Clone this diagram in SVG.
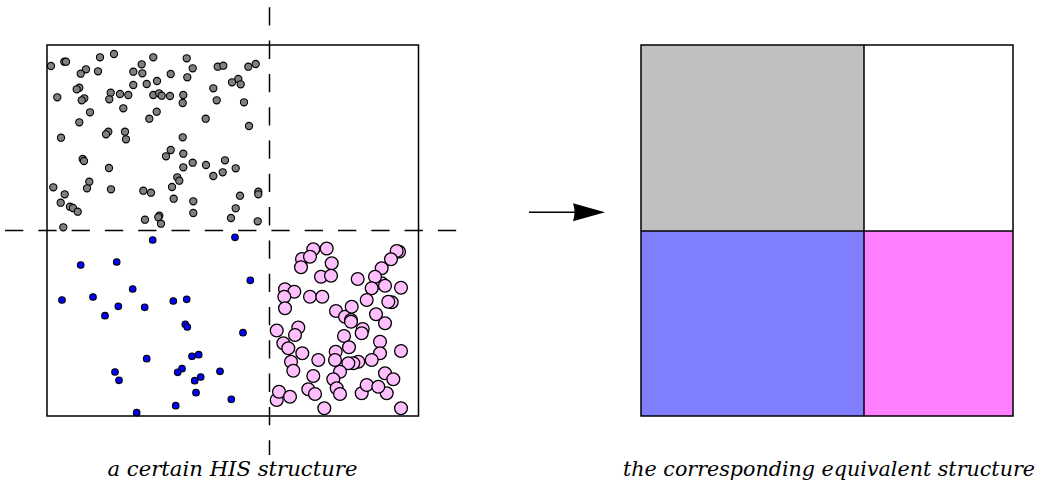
<svg xmlns="http://www.w3.org/2000/svg" width="1039" height="491" viewBox="0 0 1039 491">
<style>
.frame{fill:none;stroke:#000;stroke-width:1.5}
.dash{fill:none;stroke:#000;stroke-width:1.5;stroke-dasharray:18.3 15}
.g circle{fill:#808080;stroke:#000;stroke-width:1.1}
.b circle{fill:#0000ff;stroke:#000;stroke-width:1.1}
.p circle{fill:#ffbfff;stroke:#000;stroke-width:1.3}
.cap{font-family:"DejaVu Serif","Liberation Serif",serif;font-style:italic;font-size:20px;fill:#000}
</style>
<rect width="1039" height="491" fill="#fff"/>
<g id="his-structure">
<g class="g">
<circle cx="51" cy="66" r="3.6"/><circle cx="64.3" cy="61.7" r="3.6"/><circle cx="66" cy="61.7" r="3.6"/><circle cx="100" cy="57.3" r="3.6"/><circle cx="114" cy="54" r="3.6"/><circle cx="153.3" cy="57.3" r="3.6"/><circle cx="186.7" cy="58.3" r="3.6"/><circle cx="192.7" cy="68.3" r="3.6"/><circle cx="217.7" cy="66.7" r="3.6"/><circle cx="223.3" cy="65.7" r="3.6"/><circle cx="248.3" cy="66.7" r="3.6"/><circle cx="255.7" cy="64" r="3.6"/><circle cx="86" cy="69.3" r="3.6"/><circle cx="80.7" cy="73.7" r="3.6"/><circle cx="98" cy="71.3" r="3.6"/><circle cx="133.3" cy="71.7" r="3.6"/><circle cx="141.7" cy="64.3" r="3.6"/><circle cx="142.3" cy="73.3" r="3.6"/><circle cx="170.7" cy="74" r="3.6"/><circle cx="187.3" cy="77.3" r="3.6"/><circle cx="238.3" cy="79" r="3.6"/><circle cx="232" cy="82.3" r="3.6"/><circle cx="240.7" cy="84.3" r="3.6"/><circle cx="79.3" cy="87.7" r="3.6"/><circle cx="76.7" cy="89.3" r="3.6"/><circle cx="57.3" cy="97.3" r="3.6"/><circle cx="84.3" cy="98.3" r="3.6"/><circle cx="81.7" cy="100.3" r="3.6"/><circle cx="110.7" cy="92.7" r="3.6"/><circle cx="109.3" cy="99.3" r="3.6"/><circle cx="120" cy="94" r="3.6"/><circle cx="128.3" cy="95" r="3.6"/><circle cx="146.7" cy="84" r="3.6"/><circle cx="133.3" cy="85" r="3.6"/><circle cx="157" cy="81" r="3.6"/><circle cx="153.3" cy="95" r="3.6"/><circle cx="159" cy="93.3" r="3.6"/><circle cx="161.7" cy="95.7" r="3.6"/><circle cx="170" cy="96" r="3.6"/><circle cx="183.3" cy="95" r="3.6"/><circle cx="182.7" cy="103" r="3.6"/><circle cx="213.3" cy="88.3" r="3.6"/><circle cx="216.7" cy="100.3" r="3.6"/><circle cx="244" cy="102.3" r="3.6"/><circle cx="90" cy="112.3" r="3.6"/><circle cx="123.3" cy="108.3" r="3.6"/><circle cx="156.7" cy="111.7" r="3.6"/><circle cx="149.3" cy="118.7" r="3.6"/><circle cx="205.7" cy="118.7" r="3.6"/><circle cx="249" cy="126" r="3.6"/><circle cx="79.3" cy="122.3" r="3.6"/><circle cx="61" cy="137.7" r="3.6"/><circle cx="108.3" cy="131.7" r="3.6"/><circle cx="106" cy="134.3" r="3.6"/><circle cx="125" cy="131.7" r="3.6"/><circle cx="126" cy="139.3" r="3.6"/><circle cx="182.7" cy="137.3" r="3.6"/><circle cx="170.7" cy="150" r="3.6"/><circle cx="166" cy="156.3" r="3.6"/><circle cx="183.3" cy="153.7" r="3.6"/><circle cx="82.7" cy="159" r="3.6"/><circle cx="84" cy="161" r="3.6"/><circle cx="109" cy="168" r="3.6"/><circle cx="183.3" cy="167.3" r="3.6"/><circle cx="192.7" cy="162.7" r="3.6"/><circle cx="206" cy="165" r="3.6"/><circle cx="225" cy="160.3" r="3.6"/><circle cx="235.7" cy="168.3" r="3.6"/><circle cx="222.7" cy="172.3" r="3.6"/><circle cx="213.3" cy="176" r="3.6"/><circle cx="177.3" cy="177.3" r="3.6"/><circle cx="179.3" cy="180.7" r="3.6"/><circle cx="172" cy="187" r="3.6"/><circle cx="89.3" cy="181.7" r="3.6"/><circle cx="87" cy="188.3" r="3.6"/><circle cx="53.3" cy="187.3" r="3.6"/><circle cx="64.7" cy="194.3" r="3.6"/><circle cx="60.7" cy="202.7" r="3.6"/><circle cx="70" cy="206.7" r="3.6"/><circle cx="73" cy="208" r="3.6"/><circle cx="77.7" cy="211.7" r="3.6"/><circle cx="111" cy="189.3" r="3.6"/><circle cx="143.3" cy="190.7" r="3.6"/><circle cx="151" cy="192.7" r="3.6"/><circle cx="173.7" cy="198.7" r="3.6"/><circle cx="193.3" cy="201.3" r="3.6"/><circle cx="193.3" cy="213" r="3.6"/><circle cx="235.7" cy="208.3" r="3.6"/><circle cx="240" cy="195.7" r="3.6"/><circle cx="258.3" cy="191.7" r="3.6"/><circle cx="258.3" cy="194.3" r="3.6"/><circle cx="231" cy="218" r="3.6"/><circle cx="257.7" cy="221.3" r="3.6"/><circle cx="145" cy="219.7" r="3.6"/><circle cx="159.3" cy="215.7" r="3.6"/><circle cx="158.3" cy="217.3" r="3.6"/><circle cx="161" cy="223.7" r="3.6"/><circle cx="63.3" cy="227.3" r="3.6"/>
</g>
<g class="b">
<circle cx="152.7" cy="240" r="3.3"/><circle cx="235" cy="237.3" r="3.3"/><circle cx="80.7" cy="265" r="3.3"/><circle cx="116.7" cy="262" r="3.3"/><circle cx="250.3" cy="280.3" r="3.3"/><circle cx="132.7" cy="289" r="3.3"/><circle cx="62" cy="300" r="3.3"/><circle cx="93" cy="297" r="3.3"/><circle cx="118.3" cy="306.3" r="3.3"/><circle cx="144.7" cy="307.3" r="3.3"/><circle cx="173.3" cy="301" r="3.3"/><circle cx="186.7" cy="299.3" r="3.3"/><circle cx="105" cy="315.7" r="3.3"/><circle cx="185.3" cy="324.3" r="3.3"/><circle cx="187.3" cy="327" r="3.3"/><circle cx="243" cy="332.7" r="3.3"/><circle cx="146.7" cy="358.7" r="3.3"/><circle cx="192" cy="356.3" r="3.3"/><circle cx="198.7" cy="354.7" r="3.3"/><circle cx="115" cy="372" r="3.3"/><circle cx="119" cy="380.3" r="3.3"/><circle cx="182" cy="368.7" r="3.3"/><circle cx="177.7" cy="372.3" r="3.3"/><circle cx="220" cy="371.3" r="3.3"/><circle cx="194.7" cy="380.7" r="3.3"/><circle cx="200.7" cy="377" r="3.3"/><circle cx="196" cy="392.7" r="3.3"/><circle cx="231.3" cy="399.3" r="3.3"/><circle cx="175.7" cy="405.7" r="3.3"/><circle cx="136.7" cy="412.7" r="3.3"/>
</g>
<g class="p">
<circle cx="302" cy="259" r="6.4"/><circle cx="313.3" cy="249.3" r="6.4"/><circle cx="326.7" cy="248.5" r="6.4"/><circle cx="310" cy="256.7" r="6.4"/><circle cx="301" cy="267.3" r="6.4"/><circle cx="331.7" cy="263.3" r="6.4"/><circle cx="321" cy="276.7" r="6.4"/><circle cx="331" cy="275.7" r="6.4"/>
<circle cx="399" cy="251.7" r="6.4"/><circle cx="396.7" cy="251" r="6.4"/><circle cx="391" cy="259.3" r="6.4"/><circle cx="381.7" cy="268.3" r="6.4"/><circle cx="357.7" cy="279" r="6.4"/><circle cx="381.7" cy="283.3" r="6.4"/><circle cx="375" cy="276.7" r="6.4"/><circle cx="371.7" cy="288.3" r="6.4"/><circle cx="385" cy="285.7" r="6.4"/><circle cx="401" cy="287.7" r="6.4"/><circle cx="391.7" cy="302.3" r="6.4"/><circle cx="388.3" cy="301.7" r="6.4"/><circle cx="366.7" cy="300" r="6.4"/>
<circle cx="285" cy="289.3" r="6.4"/><circle cx="294.3" cy="291.7" r="6.4"/><circle cx="284.3" cy="296.7" r="6.4"/><circle cx="285" cy="308.3" r="6.4"/><circle cx="310" cy="296.7" r="6.4"/><circle cx="322.3" cy="296.7" r="6.4"/>
<circle cx="336" cy="311" r="6.4"/><circle cx="345" cy="316.7" r="6.4"/><circle cx="351.7" cy="306.7" r="6.4"/><circle cx="351" cy="320" r="6.4"/><circle cx="351" cy="321.7" r="6.4"/><circle cx="376" cy="314.3" r="6.4"/><circle cx="385" cy="323.3" r="6.4"/><circle cx="362.7" cy="329" r="6.4"/><circle cx="276.7" cy="330.5" r="6.4"/><circle cx="298.3" cy="327.5" r="6.4"/>
<circle cx="295" cy="335" r="6.4"/><circle cx="283.3" cy="343.3" r="6.4"/><circle cx="288.3" cy="348.3" r="6.4"/><circle cx="302.3" cy="353.3" r="6.4"/><circle cx="291" cy="361.7" r="6.4"/><circle cx="293.3" cy="370.7" r="6.4"/><circle cx="318.3" cy="360" r="6.4"/>
<circle cx="344" cy="336" r="6.4"/><circle cx="361.7" cy="333.3" r="6.4"/><circle cx="380" cy="341.7" r="6.4"/><circle cx="380" cy="353.3" r="6.4"/><circle cx="371.7" cy="360" r="6.4"/><circle cx="401" cy="351" r="6.4"/><circle cx="335.7" cy="351.7" r="6.4"/><circle cx="335" cy="360" r="6.4"/><circle cx="358.3" cy="361.7" r="6.4"/><circle cx="353.3" cy="363.3" r="6.4"/><circle cx="348.3" cy="363.3" r="6.4"/><circle cx="349" cy="347.3" r="6.4"/>
<circle cx="340" cy="371.7" r="6.4"/><circle cx="333.3" cy="379.3" r="6.4"/><circle cx="336.7" cy="388.3" r="6.4"/><circle cx="340" cy="394" r="6.4"/><circle cx="313.3" cy="376" r="6.4"/><circle cx="308.3" cy="389.3" r="6.4"/><circle cx="315" cy="394" r="6.4"/><circle cx="324.3" cy="408.3" r="6.4"/>
<circle cx="276.7" cy="400" r="6.4"/><circle cx="279" cy="391.7" r="6.4"/><circle cx="290" cy="396.7" r="6.4"/>
<circle cx="361.7" cy="393.3" r="6.4"/><circle cx="366.7" cy="385" r="6.4"/><circle cx="386.7" cy="393.3" r="6.4"/><circle cx="378.3" cy="386.7" r="6.4"/><circle cx="385" cy="373.3" r="6.4"/><circle cx="393.3" cy="379.3" r="6.4"/><circle cx="401" cy="408.3" r="6.4"/>
</g>
<rect class="frame" x="47" y="45" width="371.5" height="371"/>
<line class="dash" x1="269.5" y1="7.3" x2="269.5" y2="455"/>
<line class="dash" x1="5" y1="230.5" x2="457" y2="230.5"/>
<text class="cap" x="232.5" y="475.5" text-anchor="middle" textLength="250" lengthAdjust="spacingAndGlyphs">a certain HIS structure</text>
</g>
<g id="equivalent-structure">
<rect x="641" y="45" width="223" height="186" fill="#c0c0c0"/>
<rect x="641" y="231" width="223" height="185" fill="#8080ff"/>
<rect x="864" y="231" width="149" height="185" fill="#ff80ff"/>
<rect class="frame" x="641" y="45" width="372" height="371"/>
<line class="frame" x1="864" y1="45" x2="864" y2="416"/>
<line class="frame" x1="641" y1="231" x2="1013" y2="231"/>
<text class="cap" x="829" y="475.5" text-anchor="middle" textLength="412" lengthAdjust="spacingAndGlyphs">the corresponding equivalent structure</text>
</g>
<g id="connectors">
<line x1="529" y1="212.3" x2="576" y2="212.3" stroke="#000" stroke-width="1.5"/>
<path d="M573 203.3 L605 212.3 L573 221.3 Q576 212.3 573 203.3 Z" fill="#000"/>
</g>
</svg>
